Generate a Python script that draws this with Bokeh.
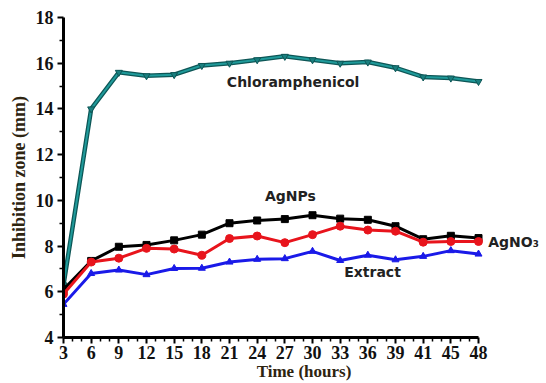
from bokeh.plotting import figure
from bokeh.models import Range1d, FixedTicker, Label
from bokeh.embed import file_html
from bokeh.resources import INLINE

# Sampling times (hours) shown as evenly spaced ticks
hours = ["3", "6", "9", "12", "15", "18", "21", "24", "27", "30", "33", "36", "39", "41", "45", "48"]

# Inhibition zone diameters (mm)
chloramphenicol = [6.3, 14.0, 15.6, 15.45, 15.5, 15.9, 16.0, 16.15, 16.3, 16.15, 16.0, 16.05, 15.8, 15.4, 15.35, 15.2]
agnps = [6.1, 7.35, 7.97, 8.05, 8.25, 8.5, 9.0, 9.12, 9.18, 9.35, 9.2, 9.15, 8.87, 8.3, 8.45, 8.35]
agno3 = [5.9, 7.3, 7.47, 7.9, 7.87, 7.6, 8.33, 8.44, 8.15, 8.5, 8.87, 8.7, 8.65, 8.17, 8.2, 8.2]
extract = [5.45, 6.8, 6.95, 6.75, 7.02, 7.03, 7.3, 7.42, 7.45, 7.77, 7.37, 7.6, 7.4, 7.55, 7.8, 7.65]

x = list(range(len(hours)))
last = len(hours) - 1

# The plotting area runs past the last sample so the AgNO3 name fits on the right;
# the x axis itself stops at the last sample.
p = figure(width=546, height=383, output_backend="svg", toolbar_location=None,
           x_range=Range1d(0, 17.385), y_range=Range1d(4, 18),
           min_border_left=63, min_border_right=2, min_border_top=17, min_border_bottom=44)
p.outline_line_color = None
p.grid.visible = False
p.background_fill_color = "white"
p.border_fill_color = "white"
p.xaxis.bounds = (0, last)

# x axis: one major tick per sample, two minor ticks between samples
minor_x = [i + f for i in range(last) for f in (1 / 3, 2 / 3)]
p.xaxis.ticker = FixedTicker(ticks=x, minor_ticks=minor_x)
p.xaxis.major_label_overrides = {i: h for i, h in enumerate(hours)}
p.yaxis.ticker = FixedTicker(ticks=list(range(4, 19, 2)), minor_ticks=list(range(5, 18, 2)))

for ax in (p.xaxis[0], p.yaxis[0]):
    ax.axis_line_width = 3
    ax.axis_line_color = "black"
    ax.major_tick_line_width = 2
    ax.minor_tick_line_width = 1.5
    ax.major_tick_in = 0
    ax.minor_tick_in = 0
    ax.major_tick_out = 6
    ax.minor_tick_out = 4
    ax.major_label_text_font = "Liberation Serif"
    ax.major_label_text_font_style = "bold"
    ax.major_label_text_font_size = "18px"
    ax.major_label_text_color = "#111111"
    ax.axis_label_text_font = "Liberation Serif"
    ax.axis_label_text_font_style = "bold"
    ax.axis_label_text_color = "#2e2410"

p.xaxis.axis_label = "Time (hours)"
p.yaxis.axis_label = "Inhibition zone (mm)"
p.xaxis.axis_label_text_font_size = "17px"
p.yaxis.axis_label_text_font_size = "18px"
p.xaxis.major_label_standoff = 2
p.xaxis.axis_label_standoff = 0
p.yaxis.major_label_standoff = 4
p.yaxis.axis_label_standoff = 4

# Chloramphenicol: dark-edged teal line with downward triangles
p.line(x, chloramphenicol, line_color="#0d5656", line_width=4.5)
p.line(x, chloramphenicol, line_color="#1f9a9a", line_width=2)
p.scatter(x, chloramphenicol, marker="inverted_triangle", size=7, fill_color="#1a7f7f", line_color="#0d5656")

p.line(x, agnps, line_color="black", line_width=3)
p.scatter(x, agnps, marker="square", size=7, fill_color="black", line_color="black")

p.line(x, agno3, line_color="#e8141c", line_width=3)
p.scatter(x, agno3, marker="circle", size=8, fill_color="#e8141c", line_color="#e8141c")

p.line(x, extract, line_color="#1a1ae8", line_width=3)
p.scatter(x, extract, marker="triangle", size=7, fill_color="#1a1ae8", line_color="#1a1ae8")

# Series names written next to their curves
labels = [
    ("Chloramphenicol", 8.3, 15.17, "center"),
    ("AgNPs", 8.2, 10.17, "center"),
    ("AgNO\u2083", 15.35, 8.2, "left"),
    ("Extract", 11.17, 6.87, "center"),
]
for txt, lx, ly, align in labels:
    p.add_layout(Label(x=lx, y=ly, text=txt, text_font="DejaVu Sans", text_font_style="bold",
                       text_font_size="14px", text_color="#222222",
                       text_align=align, text_baseline="middle"))

open("out.html", "w").write(file_html(p, INLINE))
